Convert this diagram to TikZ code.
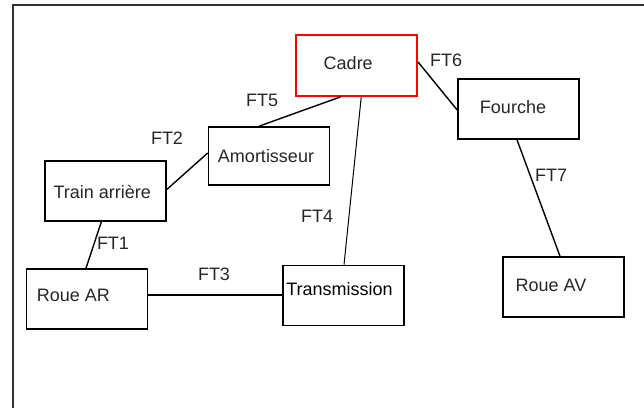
\documentclass[tikz,border=0pt]{standalone}
\usepackage{fontspec}
\setmainfont{Liberation Sans}
\usetikzlibrary{positioning,calc}
\tikzset{
  bloc/.style = {draw, line width=1.6pt, minimum width=121pt, minimum height=60pt, inner sep=0pt},
  lien/.style = {line width=1.4pt},
  ft/.style   = {text=black!85}
}

\begin{document}
\begin{tikzpicture}[x=1pt, y=-1pt, font=\fontsize{18}{21}\selectfont]
  \useasboundingbox (0,0) rectangle (644,408);
  % Cadre de la figure
  \draw [line width=2pt, black!80] (12.5,408) -- (12.5,5) -- (644,5);

  % Blocs
  \node [bloc, draw=red, minimum height=61pt] (cadre) at (356.75, 65.5)
        [label={[xshift=-8.5pt, yshift=2.5pt, text=black!85]center:Cadre}] {};
  \node [bloc] (fourche) at (518.5, 109.0)
        [label={[xshift=-5.5pt, yshift=2pt, text=black!85]center:Fourche}] {};
  \node [bloc, minimum height=58pt] (amort) at (269.0, 156.0)
        [label={[xshift=-3pt, text=black!85]center:Amortisseur}] {};
  \node [bloc] (train) at (105.75, 191.25)
        [label={[xshift=-3.5pt, yshift=-1pt, text=black!85]center:Train arrière}] {};
  \node [bloc] (rouear) at (87.0, 299.0)
        [label={[xshift=-13.5pt, yshift=4pt, text=black!85]center:Roue AR}] {};
  \node [bloc] (trans) at (343.5, 295.5)
        [label={[xshift=-4pt, yshift=6pt, text=black]center:Transmission}] {};
  \node [bloc] (roueav) at (563.5, 287.0)
        [label={[xshift=-12.5pt, yshift=1.5pt, text=black!85]center:Roue AV}] {};

  % Liaisons
  \draw [lien] ([xshift=-16pt]cadre.south) -- ([xshift=-10pt]amort.north);
  \draw [line width=1pt] ([xshift=4.5pt]cadre.south) -- ([xshift=0.5pt]trans.north);
  \draw [lien] ([yshift=3.5pt]cadre.east) -- ([yshift=-1pt]fourche.west);
  \draw [lien] ([yshift=3pt]amort.west) -- ([yshift=2pt]train.east);
  \draw [lien] ([xshift=-4.5pt]train.south) -- ([xshift=-1pt]rouear.north);
  \draw [lien] ([yshift=4pt]rouear.east) -- ([yshift=0.5pt]trans.west);
  \draw [lien] ([xshift=-1.5pt]fourche.south) -- ([xshift=-3.5pt]roueav.north);

  % Noms des liaisons
  \node [ft] (ft1) at (113, 243) {FT1};
  \node [ft] (ft2) at (167, 138) {FT2};
  \node [ft] (ft3) at (214, 274) {FT3};
  \node [ft] (ft4) at (317, 216) {FT4};
  \node [ft] (ft5) at (262, 100) {FT5};
  \node [ft] (ft6) at (446,  60) {FT6};
  \node [ft] (ft7) at (551, 175) {FT7};
\end{tikzpicture}
\end{document}
